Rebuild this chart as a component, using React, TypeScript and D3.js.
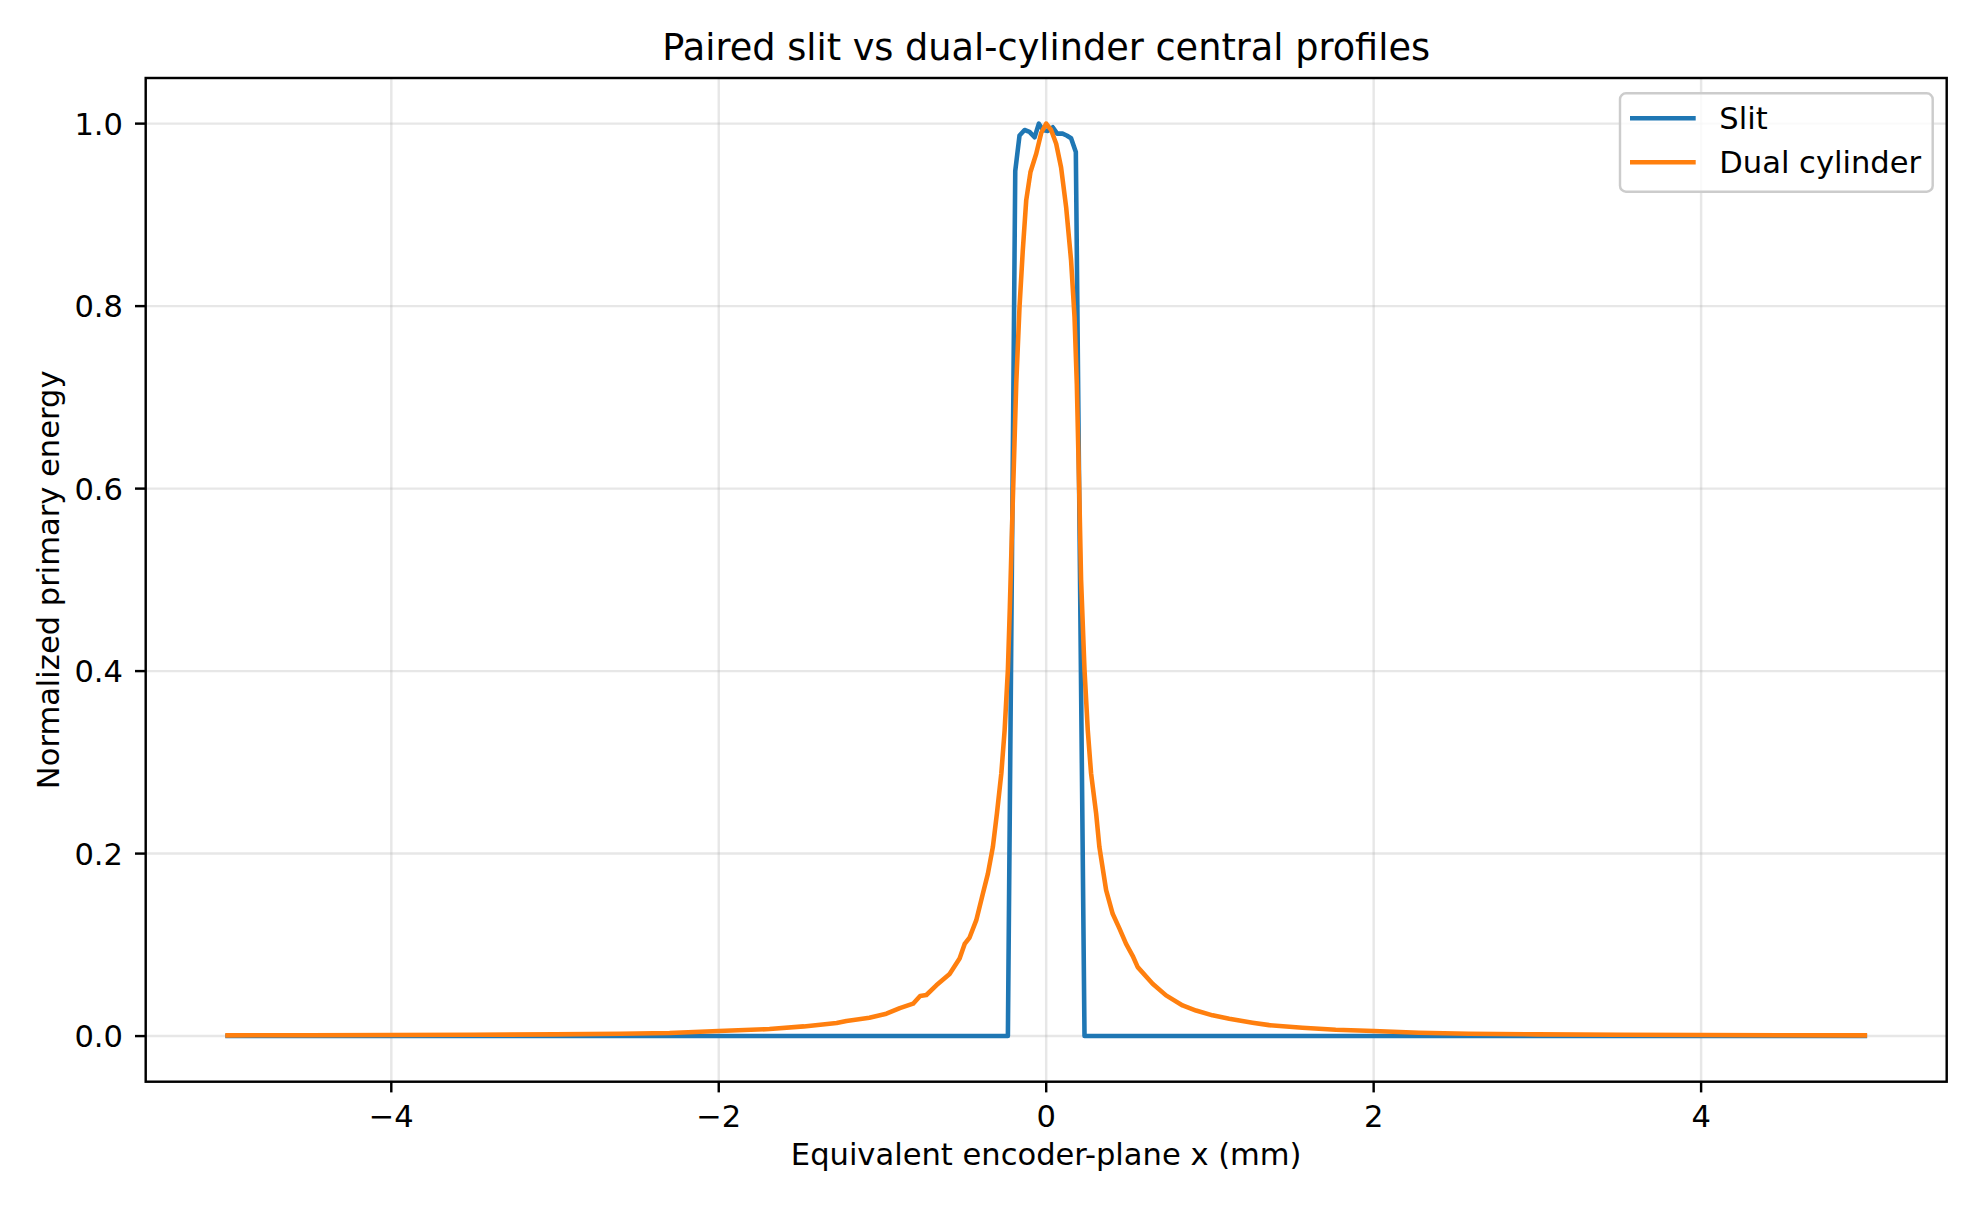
import React from "react";
import * as d3 from "d3";

const slitX = [-5, -0.234, -0.189, -0.163, -0.132, -0.102, -0.071, -0.045, -0.02, 0.01, 0.04, 0.067, 0.1, 0.125, 0.152, 0.181, 0.234, 5];
const slitY = [0, 0, 0.948, 0.987, 0.993, 0.991, 0.985, 1.0, 0.993, 0.992, 0.996, 0.989, 0.989, 0.987, 0.984, 0.969, 0, 0];

const dualX = [
  -5, -4.5, -4, -3.5, -3, -2.6, -2.3, -2.0, -1.69, -1.48, -1.28, -1.22, -1.08, -0.976, -0.894, -0.813,
  -0.77, -0.732, -0.671, -0.59, -0.529, -0.498, -0.468, -0.427, -0.387, -0.356, -0.326, -0.301, -0.274,
  -0.254, -0.234, -0.222, -0.204, -0.183, -0.163, -0.143, -0.122, -0.096, -0.061, -0.03, 0, 0.03, 0.061,
  0.091, 0.122, 0.152, 0.173, 0.187, 0.203, 0.213, 0.234, 0.254, 0.274, 0.305, 0.325, 0.366, 0.406,
  0.447, 0.488, 0.528, 0.559, 0.65, 0.732, 0.833, 0.915, 1.016, 1.118, 1.26, 1.362, 1.565, 1.768, 2.0,
  2.276, 2.58, 3, 3.5, 4, 4.5, 5,
];
const dualY = [
  0.0008, 0.0009, 0.0011, 0.0014, 0.0019, 0.0026, 0.0033, 0.0055, 0.0077, 0.0106, 0.0143, 0.0165, 0.02,
  0.0245, 0.0307, 0.0355, 0.044, 0.045, 0.0556, 0.068, 0.085, 0.101, 0.108, 0.127, 0.156, 0.178, 0.207,
  0.244, 0.288, 0.335, 0.401, 0.47, 0.587, 0.715, 0.799, 0.861, 0.916, 0.947, 0.967, 0.99, 1.0, 0.993,
  0.978, 0.952, 0.908, 0.85, 0.788, 0.715, 0.587, 0.5, 0.401, 0.335, 0.288, 0.244, 0.207, 0.16, 0.134,
  0.118, 0.101, 0.088, 0.0756, 0.0574, 0.0446, 0.0336, 0.028, 0.0227, 0.019, 0.0147, 0.012, 0.0092,
  0.007, 0.0055, 0.0037, 0.0026, 0.0019, 0.0014, 0.0011, 0.0009, 0.0008,
];

const xTicks = [-4, -2, 0, 2, 4];
const yTicks = [0, 0.2, 0.4, 0.6, 0.8, 1.0];

const seriesNames = ["Slit", "Dual cylinder"];
const seriesColors = ["#1f77b4", "#ff7f0e"];

const W = 1980;
const H = 1210;
const left = 145.7;
const right = 1946.7;
const top = 78;
const bottom = 1081.7;
const FONT = "DejaVu Sans, sans-serif";

export default function App() {
  const x = d3.scaleLinear().domain([-5.5, 5.5]).range([left, right]);
  const y = d3.scaleLinear().domain([-0.05, 1.05]).range([bottom, top]);
  const line = d3
    .line<[number, number]>()
    .x((d) => x(d[0]))
    .y((d) => y(d[1]));
  const slit: [number, number][] = slitX.map((v, i) => [v, slitY[i]]);
  const dual: [number, number][] = dualX.map((v, i) => [v, dualY[i]]);
  const fmtX = (v: number) => (v < 0 ? "\u2212" + Math.abs(v) : String(v));
  const fmtY = (v: number) => v.toFixed(1);

  return (
    <svg
      width={W}
      height={H}
      style={{ position: "absolute", left: 0, top: 0, background: "#fff" }}
      fontFamily={FONT}
    >
      <rect x={0} y={0} width={W} height={H} fill="#fff" />
      {/* grid */}
      {xTicks.map((t) => (
        <line key={"gx" + t} x1={x(t)} x2={x(t)} y1={top} y2={bottom} stroke="#b0b0b0" strokeOpacity={0.3} strokeWidth={2.44} />
      ))}
      {yTicks.map((t) => (
        <line key={"gy" + t} x1={left} x2={right} y1={y(t)} y2={y(t)} stroke="#b0b0b0" strokeOpacity={0.3} strokeWidth={2.44} />
      ))}
      <defs>
        <clipPath id="plotclip">
          <rect x={left} y={top} width={right - left} height={bottom - top} />
        </clipPath>
      </defs>
      <g clipPath="url(#plotclip)">
        <path d={line(slit) || ""} fill="none" stroke={seriesColors[0]} strokeWidth={4.58} strokeLinejoin="round" strokeLinecap="square" />
        <path d={line(dual) || ""} fill="none" stroke={seriesColors[1]} strokeWidth={4.58} strokeLinejoin="round" strokeLinecap="square" />
      </g>
      {/* axes frame */}
      <rect x={left} y={top} width={right - left} height={bottom - top} fill="none" stroke="#000" strokeWidth={2.44} />
      {/* x ticks */}
      {xTicks.map((t) => (
        <g key={"xt" + t}>
          <line x1={x(t)} x2={x(t)} y1={bottom} y2={bottom + 10.7} stroke="#000" strokeWidth={2.44} />
          <text x={x(t)} y={1127} textAnchor="middle" fontSize={30.56} fill="#000">
            {fmtX(t)}
          </text>
        </g>
      ))}
      {/* y ticks */}
      {yTicks.map((t) => (
        <g key={"yt" + t}>
          <line x1={left - 10.7} x2={left} y1={y(t)} y2={y(t)} stroke="#000" strokeWidth={2.44} />
          <text x={123} y={y(t) + 11} textAnchor="end" fontSize={30.56} fill="#000">
            {fmtY(t)}
          </text>
        </g>
      ))}
      {/* labels */}
      <text x={(left + right) / 2} y={1165} textAnchor="middle" fontSize={30.56} fill="#000">
        Equivalent encoder-plane x (mm)
      </text>
      <text
        transform={`translate(59, ${(top + bottom) / 2}) rotate(-90)`}
        textAnchor="middle"
        fontSize={30.56}
        fill="#000"
      >
        Normalized primary energy
      </text>
      <text x={(left + right) / 2} y={59.7} textAnchor="middle" fontSize={36.67} fill="#000">
        Paired slit vs dual-cylinder central profiles
      </text>
      {/* legend */}
      <rect x={1620} y={93.3} width={312.7} height={98.4} rx={6} ry={6} fill="#fff" fillOpacity={0.8} stroke="#cccccc" strokeWidth={2.44} />
      {seriesNames.map((n, i) => (
        <g key={n}>
          <line x1={1630} x2={1695.7} y1={118.3 + i * 44} y2={118.3 + i * 44} stroke={seriesColors[i]} strokeWidth={4.58} />
          <text x={1719.3} y={128.5 + i * 44} fontSize={30.56} fill="#000">
            {n}
          </text>
        </g>
      ))}
    </svg>
  );
}
